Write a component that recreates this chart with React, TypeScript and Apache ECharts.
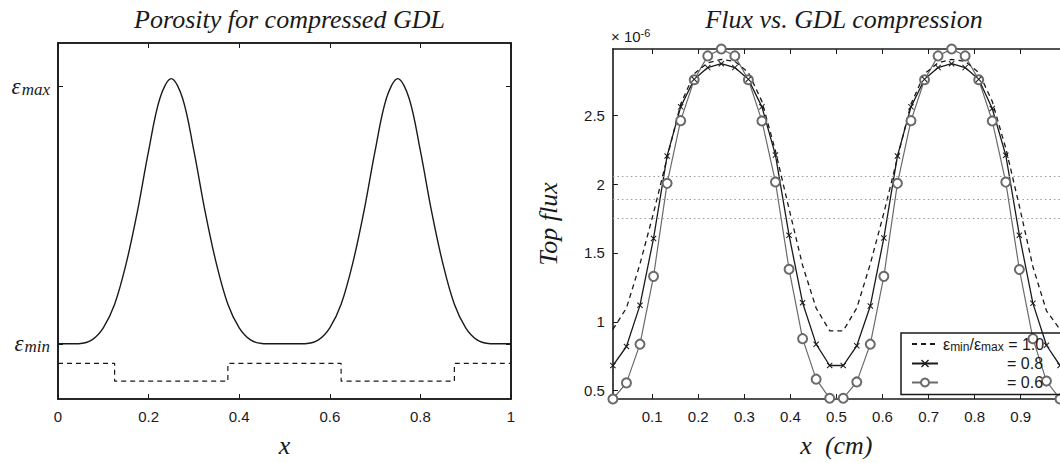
import React, { useEffect, useRef } from "react";
import * as echarts from "echarts";

// ---------- Left panel: porosity ----------
const porosityX = [0, 0.025, 0.05, 0.075, 0.1, 0.125, 0.15, 0.175, 0.2, 0.225, 0.25, 0.275, 0.3, 0.325, 0.35, 0.375, 0.4, 0.425, 0.45, 0.475, 0.5,
  0.525, 0.55, 0.575, 0.6, 0.625, 0.65, 0.675, 0.7, 0.725, 0.75, 0.775, 0.8, 0.825, 0.85, 0.875, 0.9, 0.925, 0.95, 0.975, 1];
const porosityY = [0.155, 0.155, 0.156, 0.166, 0.2, 0.266, 0.378, 0.525, 0.697, 0.845, 0.9, 0.845, 0.697, 0.525, 0.378, 0.266, 0.2, 0.166, 0.156, 0.155, 0.155,
  0.155, 0.156, 0.166, 0.2, 0.266, 0.378, 0.525, 0.697, 0.845, 0.9, 0.845, 0.697, 0.525, 0.378, 0.266, 0.2, 0.166, 0.156, 0.155, 0.155];
const stepX = [0, 0.125, 0.125, 0.375, 0.375, 0.625, 0.625, 0.875, 0.875, 1];
const stepY = [0.1, 0.1, 0.05, 0.05, 0.1, 0.1, 0.05, 0.05, 0.1, 0.1];
const epsMin = 0.155;
const epsMax = 0.878;
const porosityXTicks = [0, 0.2, 0.4, 0.6, 0.8, 1];

// ---------- Right panel: flux (units of 1e-6) ----------
const fluxX = [0.0147, 0.0441, 0.0735, 0.1029, 0.1324, 0.1618, 0.1912, 0.2206, 0.25, 0.2794, 0.3088, 0.3382, 0.3676, 0.3971, 0.4265, 0.4559, 0.4853,
  0.5147, 0.5441, 0.5735, 0.6029, 0.6324, 0.6618, 0.6912, 0.7206, 0.75, 0.7794, 0.8088, 0.8382, 0.8676, 0.8971, 0.9265, 0.9559, 0.9853];
const flux10 = [0.945, 1.10, 1.42, 1.79, 2.19, 2.58, 2.80, 2.88, 2.905, 2.89, 2.81, 2.60, 2.24, 1.82, 1.41, 1.10, 0.935,
  0.935, 1.10, 1.42, 1.79, 2.19, 2.58, 2.80, 2.88, 2.905, 2.89, 2.81, 2.60, 2.26, 1.84, 1.40, 1.08, 0.945];
const flux08 = [0.683, 0.821, 1.121, 1.605, 2.204, 2.56, 2.76, 2.845, 2.873, 2.845, 2.76, 2.56, 2.21, 1.629, 1.139, 0.838, 0.683,
  0.683, 0.826, 1.115, 1.609, 2.204, 2.56, 2.76, 2.845, 2.873, 2.845, 2.76, 2.548, 2.209, 1.629, 1.134, 0.83, 0.683];
const flux06 = [0.44, 0.557, 0.838, 1.33, 2.005, 2.46, 2.757, 2.93, 2.98, 2.93, 2.757, 2.458, 2.015, 1.382, 0.878, 0.584, 0.445,
  0.445, 0.564, 0.838, 1.33, 2.005, 2.46, 2.757, 2.93, 2.98, 2.93, 2.757, 2.458, 2.014, 1.38, 0.878, 0.57, 0.44];
const meanFlux = [2.061, 1.888, 1.745];
const fluxXTicks = [0.1, 0.2, 0.3, 0.4, 0.5, 0.6, 0.7, 0.8, 0.9];
const fluxYTicks = [0.5, 1, 1.5, 2, 2.5];
const fluxYMin = 0.44;
const fluxYMax = 2.98;

const SERIF = "'Liberation Serif', 'DejaVu Serif', serif";
const SANS = "'Liberation Sans', Arial, sans-serif";
const INK = "#1a1a1a";
const GREY = "#6a6a6a";

const pairs = (xs: number[], ys: number[]) => xs.map((x, i) => [x, ys[i]]);

const frameLine = () => ({ show: true, onZero: false, lineStyle: { color: INK, width: 1.6 } });
const tickIn = (vals: number[]) => ({ show: true, inside: true, length: 5, lineStyle: { color: INK, width: 1 }, customValues: vals });
const tickLabel = { color: INK, fontFamily: SANS, fontSize: 15 };
const nameStyle = { fontFamily: SERIF, fontStyle: "italic", fontSize: 26, color: INK };

export default function App() {
  const ref = useRef<HTMLDivElement>(null);
  useEffect(() => {
    if (!ref.current) return;
    const chart = echarts.init(ref.current, undefined, { renderer: "svg" });
    const xMark = "path://M0,1.2L1.2,0L5,3.8L8.8,0L10,1.2L6.2,5L10,8.8L8.8,10L5,6.2L1.2,10L0,8.8L3.8,5Z";
    const option: any = {
      animation: false,
      backgroundColor: "#fff",
      title: [
        { text: "Porosity for compressed GDL", left: 284.5, top: 1, textAlign: "center",
          textStyle: { fontFamily: SERIF, fontStyle: "italic", fontWeight: "normal", fontSize: 26, color: INK } },
        { text: "Flux vs. GDL compression", left: 839, top: 1, textAlign: "center",
          textStyle: { fontFamily: SERIF, fontStyle: "italic", fontWeight: "normal", fontSize: 26, color: INK } },
      ],
      grid: [
        { left: 58, top: 43, width: 453, height: 361, show: true, borderColor: INK, borderWidth: 1.6, backgroundColor: "transparent" },
        { left: 612.9, top: 49, width: 452.2, height: 355.3 },
      ],
      xAxis: [
        { gridIndex: 0, type: "value", min: 0, max: 1, position: "bottom",
          axisLine: frameLine(), axisTick: tickIn(porosityXTicks), splitLine: { show: false },
          axisLabel: { ...tickLabel, margin: 10, customValues: porosityXTicks, formatter: (v: number) => String(v) },
          name: "x", nameLocation: "middle", nameGap: 33, nameTextStyle: nameStyle },
        { gridIndex: 0, type: "value", min: 0, max: 1, position: "top", show: true,
          axisLine: frameLine(), axisTick: tickIn(porosityXTicks), axisLabel: { show: false }, splitLine: { show: false } },
        { gridIndex: 1, type: "value", min: fluxX[0], max: fluxX[fluxX.length - 1], position: "bottom",
          axisLine: frameLine(), axisTick: tickIn(fluxXTicks), splitLine: { show: false },
          axisLabel: { ...tickLabel, margin: 10, customValues: fluxXTicks, formatter: (v: number) => String(v) },
          name: "x  (cm)", nameLocation: "middle", nameGap: 33, nameTextStyle: nameStyle },
        { gridIndex: 1, type: "value", min: fluxX[0], max: fluxX[fluxX.length - 1], position: "top",
          axisLine: frameLine(), axisTick: tickIn(fluxXTicks), axisLabel: { show: false }, splitLine: { show: false } },
      ],
      yAxis: [
        { gridIndex: 0, type: "value", min: 0, max: 1, position: "left",
          axisLine: frameLine(), axisTick: tickIn([epsMin, epsMax]), splitLine: { show: false },
          axisLabel: { margin: 8, customValues: [epsMin, epsMax],
            formatter: (v: number) => (v > 0.5 ? "{e|ε}{s|max}" : "{e|ε}{s|min}"),
            rich: {
              e: { fontFamily: SERIF, fontStyle: "italic", fontSize: 23, color: INK },
              s: { fontFamily: SERIF, fontStyle: "italic", fontSize: 17, color: INK, verticalAlign: "bottom", padding: [6, 0, 0, 1] },
            } } },
        { gridIndex: 0, type: "value", min: 0, max: 1, position: "right", show: true,
          axisLine: frameLine(), axisTick: tickIn([epsMin, epsMax]), axisLabel: { show: false }, splitLine: { show: false } },
        { gridIndex: 1, type: "value", min: fluxYMin, max: fluxYMax, position: "left",
          axisLine: frameLine(), axisTick: tickIn(fluxYTicks), splitLine: { show: false },
          axisLabel: { ...tickLabel, margin: 8, customValues: fluxYTicks, formatter: (v: number) => String(v) },
          name: "Top flux", nameLocation: "middle", nameGap: 51, nameRotate: 90, nameTextStyle: nameStyle },
      ],
      legend: {
        orient: "vertical", left: 901, top: 333, itemWidth: 26, itemHeight: 10, itemGap: 3,
        borderColor: INK, borderWidth: 1.5, borderRadius: 0, padding: [3, 30, 4, 10],
        data: [
          { name: "r10", itemStyle: { opacity: 0 } },
          { name: "r08" },
          { name: "r06" },
        ],
        formatter: (n: string) =>
          n === "r10" ? "{g|ε}{sb|min}{g|/ε}{sb|max}{t| = 1.0}" : n === "r08" ? "{sp|}{t|= 0.8}" : "{sp|}{t|= 0.6}",
        textStyle: {
          color: INK,
          rich: {
            g: { fontFamily: SANS, fontSize: 16, color: INK },
            sb: { fontFamily: SANS, fontSize: 12, color: INK, verticalAlign: "bottom", padding: [5, 0, 0, 0] },
            t: { fontFamily: SANS, fontSize: 16, color: INK },
            sp: { width: 64 },
          },
        },
      },
      series: [
        { type: "line", xAxisIndex: 0, yAxisIndex: 0, data: pairs(porosityX, porosityY), smooth: 0.35,
          symbol: "none", lineStyle: { color: INK, width: 1.4 } },
        { type: "line", xAxisIndex: 0, yAxisIndex: 0, data: pairs(stepX, stepY),
          symbol: "none", lineStyle: { color: INK, width: 1.2, type: [5, 4] } },
        { name: "r06", type: "line", xAxisIndex: 2, yAxisIndex: 2, data: pairs(fluxX, flux06),
          symbol: "emptyCircle", symbolSize: 9, showAllSymbol: true,
          lineStyle: { color: GREY, width: 1.2 }, itemStyle: { color: GREY, borderColor: GREY, borderWidth: 1 },
          markLine: { silent: true, symbol: "none", label: { show: false },
            lineStyle: { color: "#9a9a9a", type: [1.5, 3], width: 1 }, data: meanFlux.map((m) => ({ yAxis: m })) } },
        { name: "r08", type: "line", xAxisIndex: 2, yAxisIndex: 2, data: pairs(fluxX, flux08),
          symbol: xMark, symbolSize: 6, showAllSymbol: true,
          lineStyle: { color: INK, width: 1.3 }, itemStyle: { color: INK } },
        { name: "r10", type: "line", xAxisIndex: 2, yAxisIndex: 2, data: pairs(fluxX, flux10),
          symbol: "none", lineStyle: { color: INK, width: 1.3, type: [5, 4] }, itemStyle: { color: INK } },
      ],
      graphic: [
        { type: "text", left: 611, top: 27,
          style: { text: "{a|× 10}{b|-6}", rich: {
            a: { fontFamily: SANS, fontSize: 15, fill: INK },
            b: { fontFamily: SANS, fontSize: 11, fill: INK, verticalAlign: "top", padding: [0, 0, 7, 0] },
          } } },
      ],
    };
    chart.setOption(option);
    return () => chart.dispose();
  }, []);
  return <div ref={ref} style={{ position: "fixed", left: 0, top: 0, width: 1060, height: 463 }} />;
}
